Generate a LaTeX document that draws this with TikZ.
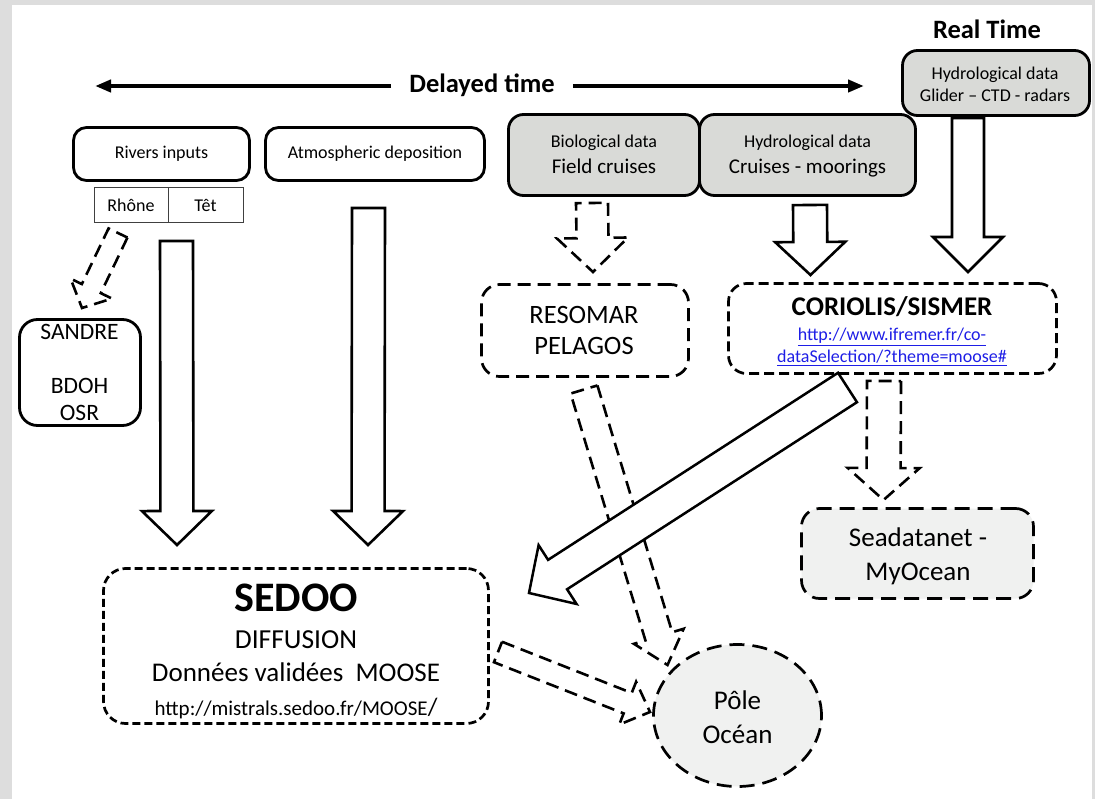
\documentclass[tikz,border=0pt]{standalone}
\usepackage{fontspec}
\setmainfont{Carlito}
\usetikzlibrary{calc,arrows.meta,shapes.geometric}
\definecolor{boxgray}{RGB}{217,218,215}
\definecolor{lightfill}{RGB}{240,241,240}
\definecolor{framegray}{RGB}{221,221,221}
\definecolor{urlblue}{RGB}{30,30,230}
\newcommand\fsz[1]{\fontsize{#1}{#1}\selectfont}
% #1 style, #2 tail, #3 tip, #4 half shaft width, #5 half head width, #6 head length
\newcommand\hollowarrow[6]{%
  \coordinate (hn) at ($(#3)!#6!(#2)$);
  \draw[#1] ($(#2)!#4!90:(#3)$) -- ($(hn)!#4!90:(#3)$) -- ($(hn)!#5!90:(#3)$) -- (#3)
    -- ($(hn)!#5!-90:(#3)$) -- ($(hn)!#4!-90:(#3)$) -- ($(#2)!#4!-90:(#3)$) -- cycle;}
\begin{document}
\begin{tikzpicture}[x=1pt,y=-1pt,
  solidbox/.style={draw, line width=2.8pt, rounded corners=13pt, fill=white, inner sep=0pt, font=\fsz{18}},
  graybox/.style={solidbox, fill=boxgray, rounded corners=15pt},
  dashbox/.style={draw, line width=2.7pt, rounded corners=18pt, inner sep=0pt},
  cellbox/.style={draw=black!75, line width=1pt, inner sep=0pt, minimum height=35pt, font=\fsz{18}},
  txt/.style={anchor=base, inner sep=0pt},
  blockarrow/.style={draw, line width=2.6pt, fill=white, line join=miter},
  dasharrow/.style={blockarrow, dash pattern=on 13pt off 7pt},
  timeline/.style={line width=4pt, -{Triangle[length=16pt,width=12pt]}},
]
\useasboundingbox (0,0) rectangle (1095,799);
\fill[framegray] (0,0) rectangle (1095,799);
\fill[white] (12,5) rectangle (1092,799);

% time axis
\node[txt, font=\bfseries\fsz{26.5}, inner xsep=18pt] (delayed) at (482,93) {Delayed time};
\coordinate (dl) at (95,86);
\coordinate (dr) at (864,86);
\draw[timeline] (delayed.west |- dl) -- (dl);
\draw[timeline] (delayed.east |- dr) -- (dr);
\node[txt, font=\bfseries\fsz{26.5}] (realtime) at (987,39) {Real Time};

% top boxes
\node[solidbox, minimum width=176pt, minimum height=53pt] (rivers) at (161.5,154) {Rivers inputs};
\node[cellbox, minimum width=74pt] (rhone) at (131,205.5) {Rhône};
\node[cellbox, minimum width=75pt] (tet) at (205.5,205.5) {Têt};
\node[solidbox, minimum width=219pt, minimum height=53pt] (atmos) at (375,154) {Atmospheric deposition};

\node[graybox, minimum width=191pt, minimum height=81pt] (bio) at (604,155) {};
\node[txt, font=\fsz{18}] (bio1) at (604,148) {Biological data};
\node[txt, font=\fsz{21}] (bio2) at (604,173.5) {Field cruises};

\node[graybox, minimum width=216pt, minimum height=81pt] (hydro) at (807.5,155) {};
\node[txt, font=\fsz{18}] (hydro1) at (807.5,148) {Hydrological data};
\node[txt, font=\fsz{21}] (hydro2) at (807.5,173.5) {Cruises - moorings};

\node[graybox, minimum width=187pt, minimum height=65pt] (rtbox) at (996,83) {};
\node[txt, font=\fsz{18}] (rt1) at (995,79.5) {Hydrological data};
\node[txt, font=\fsz{18}] (rt2) at (995,101.5) {Glider – CTD - radars};

% middle boxes
\node[solidbox, rounded corners=18pt, minimum width=121pt, minimum height=106pt] (sandre) at (80,372.5) {};
\node[txt, font=\fsz{23.5}] (sandre1) at (79.5,340) {SANDRE};
\node[txt, font=\fsz{23.5}] (sandre2) at (79.5,393.5) {BDOH};
\node[txt, font=\fsz{23.5}] (sandre3) at (79.5,420.5) {OSR};

\node[dashbox, dash pattern=on 13pt off 7pt, minimum width=207pt, minimum height=92pt] (resomar) at (585,330.5) {};
\node[txt, font=\fsz{26.5}] (res1) at (584,323.5) {RESOMAR};
\node[txt, font=\fsz{26.5}] (res2) at (584,355) {PELAGOS};

\node[dashbox, dash pattern=on 10pt off 5pt, minimum width=328pt, minimum height=90pt] (coriolis) at (892.5,328.5) {};
\node[txt, font=\bfseries\fsz{27}] (cor1) at (892,316) {CORIOLIS/SISMER};
\node[txt, font=\fsz{18}, text=urlblue] (cor2) at (892,341) {\underline{http://www.ifremer.fr/co-}};
\node[txt, font=\fsz{18}, text=urlblue] (cor3) at (892,363) {\underline{dataSelection/?theme=moose\#}};

\node[dashbox, fill=lightfill, dash pattern=on 15pt off 8pt, minimum width=232pt, minimum height=90pt] (seadata) at (917.5,553.5) {};
\node[txt, font=\fsz{27}] (sea1) at (918,546.5) {Seadatanet -};
\node[txt, font=\fsz{27}] (sea2) at (918,580) {MyOcean};

% bottom
\node[dashbox, rounded corners=22pt, dash pattern=on 8pt off 4pt, minimum width=385pt, minimum height=155pt] (sedoo) at (296,646) {};
\node[txt, font=\bfseries\fsz{42}] (sed1) at (296,611) {SEDOO};
\node[txt, font=\fsz{27.5}] (sed2) at (296,648) {DIFFUSION};
\node[txt, font=\fsz{27}] (sed3) at (296,681.5) {Données validées~~MOOSE};
\node[txt, font=\fsz{21}] (sed4) at (296,715) {http://mistrals.sedoo.fr/MOOSE{\fsz{25}/}};

\node[ellipse, draw, line width=2.7pt, dash pattern=on 15pt off 8pt, fill=lightfill, inner sep=0pt,
      minimum width=168pt, minimum height=142pt] (pole) at (737.5,715.5) {};
\node[txt, font=\fsz{27}] (pole1) at (737.5,709.3) {Pôle};
\node[txt, font=\fsz{27}] (pole2) at (737.5,743.3) {Océan};

% arrow end points
\coordinate (rivT) at (176.5,241);  \coordinate (rivH) at (177,545);
\coordinate (atmT) at (368.5,208);  \coordinate (atmH) at (368,545);
\coordinate (bioT) at (592,203);    \coordinate (bioH) at (593,272);
\coordinate (hydT) at (810,205);    \coordinate (hydH) at (810.5,275);
\coordinate (rtT) at (968,118);     \coordinate (rtH) at (968,272);
\coordinate (diaT) at (847.5,387.5);\coordinate (diaH) at (529,593);
\coordinate (seaT) at (884,381);    \coordinate (seaH) at (883.5,500);
\coordinate (rhoT) at (118,233);    \coordinate (rhoH) at (82,308);
\coordinate (resT) at (584,389.5);  \coordinate (resH) at (667.5,665);
\coordinate (sedT) at (498,652);    \coordinate (sedH) at (650,712);

% dashed hollow arrows
\hollowarrow{dasharrow}{resT}{resH}{14pt}{26pt}{30pt}
\hollowarrow{dasharrow}{sedT}{sedH}{11pt}{23pt}{24pt}
\hollowarrow{dasharrow}{rhoT}{rhoH}{10.5pt}{23pt}{21.5pt}
\hollowarrow{dasharrow}{bioT}{bioH}{16pt}{35.5pt}{34pt}
\hollowarrow{dasharrow}{seaT}{seaH}{17pt}{36pt}{32pt}
% solid hollow arrows
\hollowarrow{blockarrow}{rivT}{rivH}{16.5pt}{35pt}{34pt}
\hollowarrow{blockarrow}{atmT}{atmH}{16.5pt}{35pt}{34pt}
\hollowarrow{blockarrow}{hydT}{hydH}{17pt}{35pt}{33pt}
\hollowarrow{blockarrow}{rtT}{rtH}{16pt}{35pt}{35pt}
\hollowarrow{blockarrow, line width=2.5pt}{diaT}{diaH}{17.5pt}{35pt}{34pt}
\end{tikzpicture}
\end{document}
